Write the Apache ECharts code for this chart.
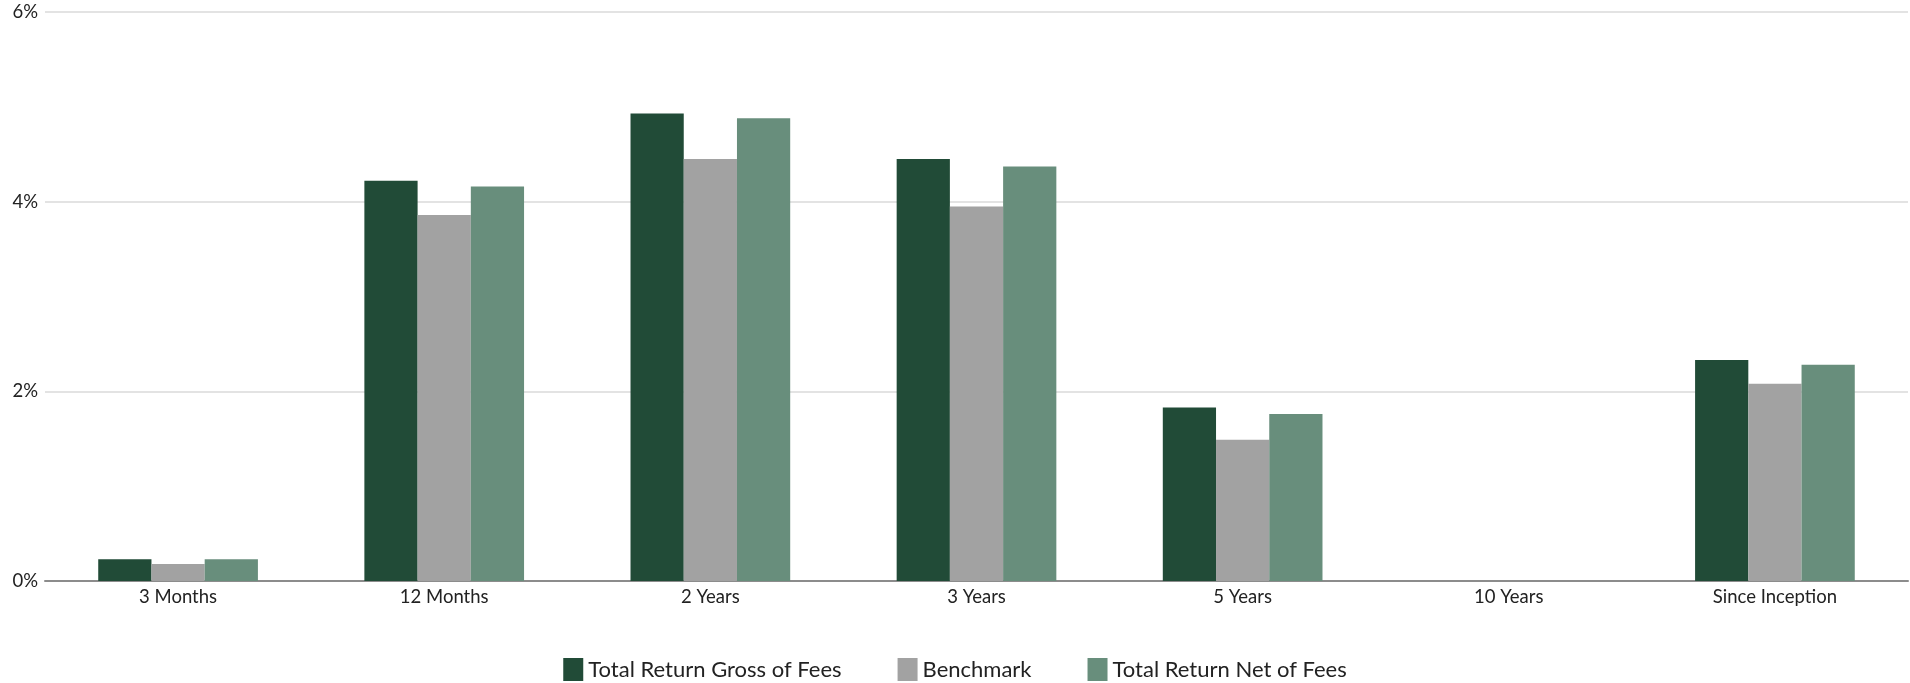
<!DOCTYPE html>
<html><head><meta charset="utf-8">
<script src="https://cdn.jsdelivr.net/npm/echarts@6/dist/echarts.min.js"></script>
<style>html,body{margin:0;padding:0;background:#fff}#c{width:1910px;height:683px}</style>
</head><body><div id="c"></div>
<script>
const categories = ['3 Months','12 Months','2 Years','3 Years','5 Years','10 Years','Since Inception'];
const grossOfFees = [0.23, 4.22, 4.93, 4.45, 1.83, null, 2.33];
const benchmark   = [0.18, 3.86, 4.45, 3.95, 1.49, null, 2.08];
const netOfFees   = [0.23, 4.16, 4.88, 4.37, 1.76, null, 2.28];
const yTicks = [0, 2, 4, 6];
const seriesNames = ['Total Return Gross of Fees','Benchmark','Total Return Net of Fees'];
const colors = ['#214b37','#a2a2a2','#688e7c'];

const chart = echarts.init(document.getElementById('c'));
const font = 'Lato, "Open Sans", sans-serif';
const mk = (name, data, color) => ({
  name, type: 'bar', data, barWidth: '20%', barGap: '0%',
  itemStyle: { color }, emphasis: { disabled: true }
});
chart.setOption({
  animation: false,
  textStyle: { fontFamily: font },
  color: colors,
  grid: { left: 45, right: 2, top: 12, bottom: 102, containLabel: false },
  legend: {
    data: seriesNames, top: 653, left: 'center',
    itemWidth: 20, itemHeight: 23, itemGap: 56,
    icon: 'rect',
    textStyle: { fontSize: 22, color: '#222', fontFamily: font, padding: [0,0,0,0] }
  },
  xAxis: {
    type: 'category', data: categories,
    axisLine: { lineStyle: { color: '#8c8c8c', width: 2 } },
    axisTick: { show: false },
    axisLabel: { fontSize: 18.5, color: '#222', margin: 7, fontFamily: font, interval: 0 }
  },
  yAxis: {
    type: 'value', min: yTicks[0], max: yTicks[yTicks.length-1], interval: 2,
    axisLine: { show: false }, axisTick: { show: false },
    splitLine: { lineStyle: { color: '#e3e3e3', width: 2 } },
    axisLabel: { fontSize: 18.5, color: '#222', margin: 7, formatter: v => v + '%', fontFamily: font }
  },
  series: [
    mk(seriesNames[0], grossOfFees, colors[0]),
    mk(seriesNames[1], benchmark, colors[1]),
    mk(seriesNames[2], netOfFees, colors[2])
  ]
});
</script></body></html>
